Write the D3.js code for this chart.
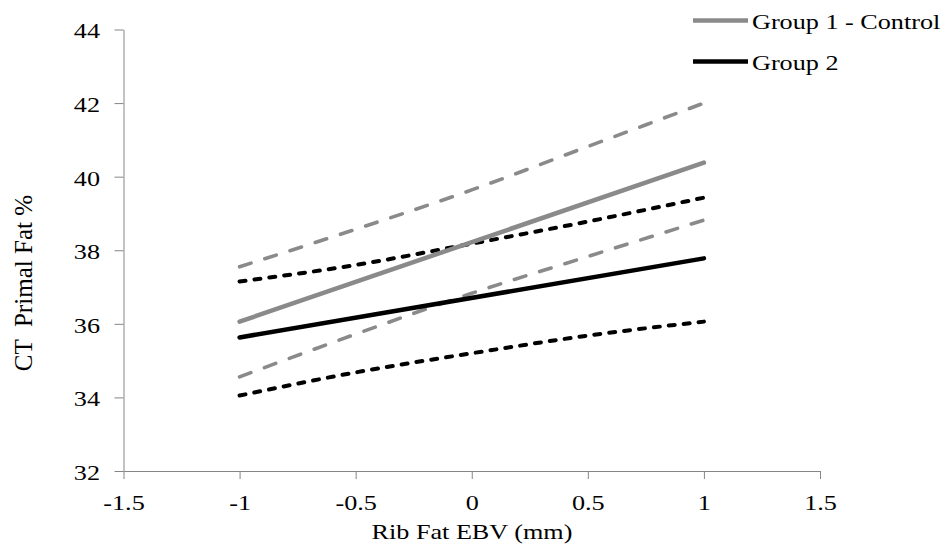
<!DOCTYPE html>
<html>
<head>
<meta charset="utf-8">
<script src="https://cdn.jsdelivr.net/npm/d3@7"></script>
<style>
  body { margin: 0; background: #fff; }
</style>
</head>
<body>
<div id="chart"></div>
<script>
// Fitted lines (end points) and confidence bands
const xEnds = [-1, 1];
const group1Fit = [36.06, 40.38];
const group2Fit = [35.63, 37.78];

const bandX = [-1, -0.5, 0, 0.5, 1];
const group1Upper = [37.55, 38.57, 39.64, 40.82, 42.0];
const group1Lower = [34.56, 35.72, 36.83, 37.83, 38.82];
const group2Upper = [37.15, 37.6, 38.18, 38.78, 39.43];
const group2Lower = [34.05, 34.68, 35.2, 35.68, 36.06];

const xTicks = [-1.5, -1, -0.5, 0, 0.5, 1, 1.5];
const yTicks = [32, 34, 36, 38, 40, 42, 44];
const legendNames = ["Group 1 - Control", "Group 2"];

const width = 948, height = 557;
const stretch = 1.19; // text in the original is stretched horizontally
const grey = "#8a8a8a";
const axisColor = "#868686";
const font = "'Liberation Serif'";

const svg = d3.select("#chart")
    .append("svg")
    .attr("width", width)
    .attr("height", height);

const x = d3.scaleLinear().domain([-1.5, 1.5]).range([123.5, 820]);
const y = d3.scaleLinear().domain([32, 44]).range([471, 29.5]);

// y axis
const yAxis = svg.append("g")
    .attr("transform", `translate(${x(-1.5)},0)`)
    .call(d3.axisLeft(y).tickValues(yTicks).tickSize(9).tickSizeOuter(0).tickFormat(d3.format("d")));
yAxis.selectAll("text")
    .attr("x", -23.5 / stretch)
    .attr("dy", "0.38em")
    .attr("transform", `scale(${stretch},1)`)
    .style("font-family", font)
    .style("font-size", "22px")
    .style("fill", "#000");

// x axis
const xAxis = svg.append("g")
    .attr("transform", `translate(0,${y(32)})`)
    .call(d3.axisBottom(x).tickValues(xTicks).tickSize(8).tickSizeOuter(0).tickFormat(d => String(d)));
xAxis.selectAll("text")
    .attr("y", 39)
    .attr("dy", 0)
    .attr("transform", `scale(${stretch},1)`)
    .style("font-family", font)
    .style("font-size", "22px")
    .style("fill", "#000");

svg.selectAll(".domain, .tick line").attr("stroke", axisColor);

// axis titles
svg.append("text")
    .attr("transform", `translate(472,539) scale(${stretch},1)`)
    .attr("text-anchor", "middle")
    .style("font-family", font)
    .style("font-size", "22px")
    .text("Rib Fat EBV (mm)");

svg.append("text")
    .attr("transform", `translate(31.5,283) rotate(-90) scale(1.14,${stretch})`)
    .attr("text-anchor", "middle")
    .style("font-family", font)
    .style("font-size", "22px")
    .style("white-space", "pre")
    .text("CT  Primal Fat %");

// lines
const bandLine = d3.line()
    .x((d, i) => x(bandX[i]))
    .y(d => y(d))
    .curve(d3.curveMonotoneX);

const fitLine = d3.line()
    .x((d, i) => x(xEnds[i]))
    .y(d => y(d));

const bands = [
    { values: group1Upper, color: grey, dash: "12,14.5", w: 3.6 },
    { values: group1Lower, color: grey, dash: "12,14.5", w: 3.6 },
    { values: group2Upper, color: "#000", dash: "6,9", w: 4 },
    { values: group2Lower, color: "#000", dash: "6,9", w: 4 }
];

svg.selectAll(".band")
    .data(bands)
    .enter()
    .append("path")
    .attr("class", "band")
    .attr("d", d => bandLine(d.values))
    .attr("fill", "none")
    .attr("stroke", d => d.color)
    .attr("stroke-width", d => d.w)
    .attr("stroke-dasharray", d => d.dash)
    .attr("stroke-linecap", "round");

const fits = [
    { values: group1Fit, color: grey },
    { values: group2Fit, color: "#000" }
];

svg.selectAll(".fit")
    .data(fits)
    .enter()
    .append("path")
    .attr("class", "fit")
    .attr("d", d => fitLine(d.values))
    .attr("fill", "none")
    .attr("stroke", d => d.color)
    .attr("stroke-width", 4.5)
    .attr("stroke-linecap", "round");

// legend
const legend = svg.selectAll(".legend")
    .data(legendNames)
    .enter()
    .append("g")
    .attr("class", "legend")
    .attr("transform", (d, i) => `translate(0,${20.5 + i * 41})`);

legend.append("line")
    .attr("x1", 693)
    .attr("x2", 748)
    .attr("stroke", (d, i) => fits[i].color)
    .attr("stroke-width", 4.5);

legend.append("text")
    .attr("transform", `translate(752,8.5) scale(${stretch},1)`)
    .style("font-family", font)
    .style("font-size", "22px")
    .text(d => d);
</script>
</body>
</html>
